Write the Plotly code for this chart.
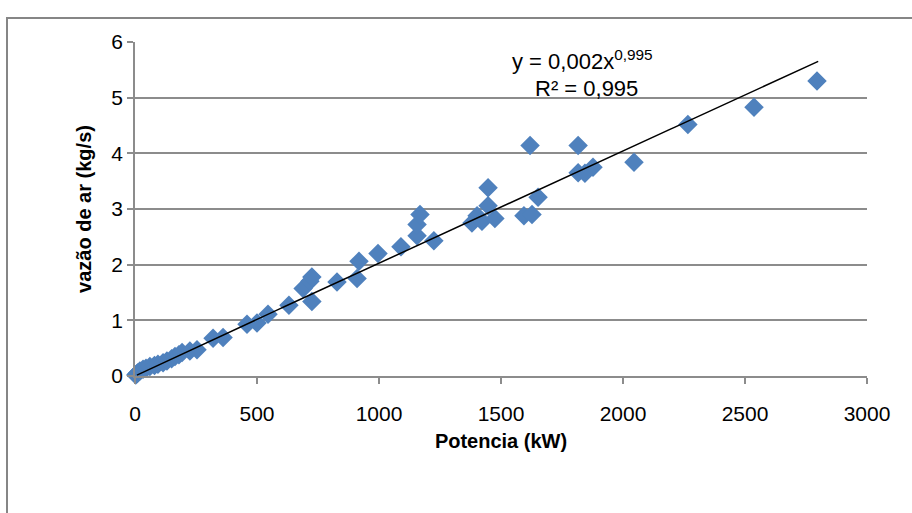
import numpy as np
import plotly.graph_objects as go

# Data
potencia_kw = [3, 8, 12, 20, 33, 45, 61, 80, 94, 115, 131, 150, 164, 180, 193, 225, 254,
               320, 361, 459, 500, 545, 631, 689, 717, 725, 725, 828, 910, 918, 996,
               1090, 1156, 1156, 1168, 1225, 1381, 1402, 1422, 1447, 1447, 1475,
               1594, 1627, 1619, 1652, 1816, 1816, 1844, 1877, 2045, 2266, 2537, 2795]
vazao_kgs = [0.02, 0.04, 0.06, 0.09, 0.12, 0.14, 0.17, 0.19, 0.21, 0.24, 0.27, 0.31, 0.35, 0.38, 0.42, 0.45, 0.47,
             0.68, 0.69, 0.93, 0.95, 1.11, 1.27, 1.57, 1.70, 1.78, 1.34, 1.69, 1.75, 2.06, 2.20,
             2.32, 2.52, 2.72, 2.90, 2.43, 2.75, 2.88, 2.78, 3.06, 3.38, 2.83,
             2.88, 2.90, 4.14, 3.21, 4.14, 3.65, 3.64, 3.75, 3.84, 4.52, 4.83, 5.30]

# Power trendline (coefficients as drawn)
trend_coef = 0.0021
trend_exp = 0.995
trend_xmin, trend_xmax = 8, 2800

x_ticks = [0, 500, 1000, 1500, 2000, 2500, 3000]
y_ticks = [0, 1, 2, 3, 4, 5, 6]

tx = np.linspace(trend_xmin, trend_xmax, 200)
ty = trend_coef * tx ** trend_exp

FONT = "Liberation Sans"
GRID = "#8c8c8c"

fig = go.Figure()
fig.add_trace(go.Scatter(
    x=potencia_kw, y=vazao_kgs, mode="markers",
    marker=dict(symbol="diamond", size=15, color="#4F81BD", line=dict(width=0)),
    showlegend=False, cliponaxis=False))
fig.add_trace(go.Scatter(
    x=tx, y=ty, mode="lines", line=dict(color="black", width=1.5),
    showlegend=False))

fig.update_layout(
    width=912, height=513,
    margin=dict(l=135, r=45, t=42, b=137),
    paper_bgcolor="white", plot_bgcolor="white",
    font=dict(family=FONT, size=20, color="black"),
    xaxis=dict(range=[0, 3000], tickvals=x_ticks, showgrid=False, zeroline=False,
               showline=True, linecolor=GRID, linewidth=1.5,
               ticks="outside", ticklen=6, tickcolor=GRID, tickwidth=1.5,
               ticklabelstandoff=12,
               tickfont=dict(size=21),
               title=dict(text="<b>Potencia (kW)</b>", font=dict(size=20), standoff=10)),
    yaxis=dict(range=[0, 6], tickvals=y_ticks, showgrid=True, gridcolor=GRID, gridwidth=1.5,
               zeroline=False, showline=True, linecolor=GRID, linewidth=1.5,
               ticks="outside", ticklen=6, tickcolor=GRID, tickwidth=1.5,
               tickfont=dict(size=21),
               title=dict(text="<b>vazão de ar (kg/s)</b>", font=dict(size=20), standoff=14)),
    shapes=[dict(type="rect", xref="paper", yref="paper",
                 x0=(7 - 135) / 732, x1=1.2, y0=-0.5, y1=(376 - 18) / 334,
                 line=dict(color="#868686", width=2), layer="below")],
    annotations=[
        dict(text="y = 0,002x<sup>0,995</sup>", xref="paper", yref="paper",
             x=(582 - 135) / 732, y=(376 - 60) / 334, showarrow=False,
             font=dict(size=22), xanchor="center", yanchor="middle"),
        dict(text="R² = 0,995", xref="paper", yref="paper",
             x=(586 - 135) / 732, y=(376 - 88) / 334, showarrow=False,
             font=dict(size=22), xanchor="center", yanchor="middle"),
    ],
)

fig.write_html("out.html")
